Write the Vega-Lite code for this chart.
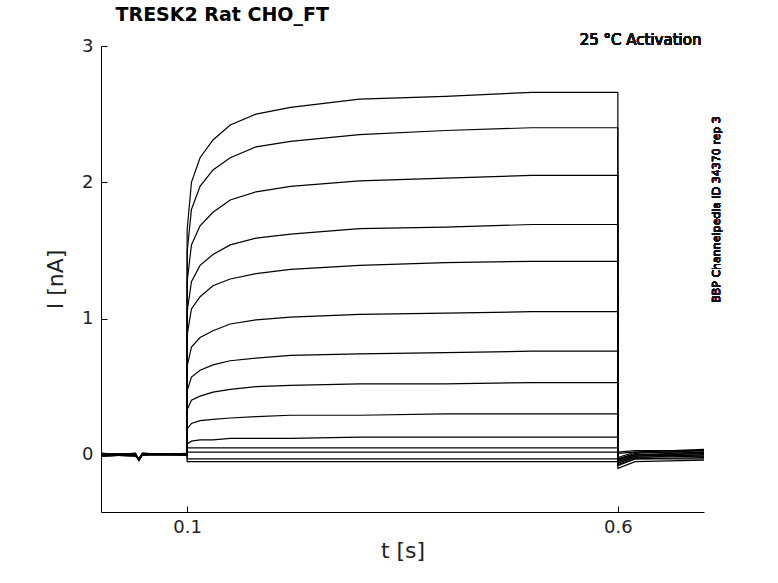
{
  "$schema": "https://vega.github.io/schema/vega-lite/v6.json",
  "width": 603,
  "height": 466,
  "autosize": {"type": "none"},
  "padding": {"left": 101, "top": 46, "right": 74, "bottom": 71},
  "config": {"view": {"stroke": null}, "font": "DejaVu Sans"},
  "title": {"text": "TRESK2  Rat  CHO_FT", "anchor": "start", "dx": 71, "fontSize": 19, "fontWeight": "bold", "offset": 8, "color": "black"},
  "data": {"values": [
    {"t": 0, "a": 0.0, "b": 0.01, "c": 0.0, "d": -0.01, "e": 0.0, "f": 0.01, "g": 0.0, "h": -0.01, "i": 0.0, "j": 0.01, "k": 0.0, "l": 0.0, "m": -0.01, "n": 0.0},
    {"t": 0.04, "a": 0.0, "b": 0.0, "c": 0.01, "d": 0.0, "e": -0.01, "f": 0.0, "g": 0.01, "h": 0.0, "i": 0.0, "j": 0.0, "k": 0.01, "l": -0.01, "m": 0.0, "n": 0.0},
    {"t": 0.044, "a": -0.04, "b": -0.03, "c": -0.04, "d": -0.03, "e": -0.04, "f": -0.03, "g": -0.04, "h": -0.03, "i": -0.04, "j": -0.03, "k": -0.04, "l": -0.03, "m": -0.04, "n": -0.03},
    {"t": 0.048, "a": 0.0, "b": 0.01, "c": 0.0, "d": 0.0, "e": 0.01, "f": 0.0, "g": 0.0, "h": 0.01, "i": 0.0, "j": 0.0, "k": 0.0, "l": 0.01, "m": 0.0, "n": 0.0},
    {"t": 0.0999, "a": 0.0, "b": 0.0, "c": 0.01, "d": 0.0, "e": 0.0, "f": 0.0, "g": 0.0, "h": 0.0, "i": 0.01, "j": 0.0, "k": 0.0, "l": 0.0, "m": 0.0, "n": 0.01},
    {"t": 0.1, "a": 1.65, "b": 1.49, "c": 1.27, "d": 1.05, "e": 0.88, "f": 0.65, "g": 0.47, "h": 0.33, "i": 0.19, "j": 0.08, "k": 0.05, "l": 0.02, "m": -0.03, "n": -0.05},
    {"t": 0.105, "a": 2.0, "b": 1.8, "c": 1.54, "d": 1.27, "e": 1.07, "f": 0.79, "g": 0.57, "h": 0.4, "i": 0.23, "j": 0.1, "k": 0.05, "l": 0.02, "m": -0.03, "n": -0.05},
    {"t": 0.115, "a": 2.18, "b": 1.97, "c": 1.68, "d": 1.39, "e": 1.16, "f": 0.86, "g": 0.62, "h": 0.43, "i": 0.25, "j": 0.11, "k": 0.05, "l": 0.02, "m": -0.03, "n": -0.05},
    {"t": 0.13, "a": 2.31, "b": 2.09, "c": 1.78, "d": 1.47, "e": 1.24, "f": 0.91, "g": 0.66, "h": 0.46, "i": 0.26, "j": 0.11, "k": 0.05, "l": 0.02, "m": -0.03, "n": -0.05},
    {"t": 0.15, "a": 2.42, "b": 2.18, "c": 1.87, "d": 1.54, "e": 1.29, "f": 0.96, "g": 0.69, "h": 0.48, "i": 0.27, "j": 0.12, "k": 0.05, "l": 0.02, "m": -0.03, "n": -0.05},
    {"t": 0.18, "a": 2.5, "b": 2.26, "c": 1.93, "d": 1.59, "e": 1.33, "f": 0.99, "g": 0.71, "h": 0.5, "i": 0.28, "j": 0.12, "k": 0.05, "l": 0.02, "m": -0.03, "n": -0.05},
    {"t": 0.22, "a": 2.55, "b": 2.3, "c": 1.97, "d": 1.62, "e": 1.36, "f": 1.01, "g": 0.73, "h": 0.51, "i": 0.29, "j": 0.12, "k": 0.05, "l": 0.02, "m": -0.03, "n": -0.05},
    {"t": 0.3, "a": 2.61, "b": 2.35, "c": 2.01, "d": 1.66, "e": 1.39, "f": 1.03, "g": 0.74, "h": 0.52, "i": 0.29, "j": 0.13, "k": 0.05, "l": 0.02, "m": -0.03, "n": -0.05},
    {"t": 0.4, "a": 2.63, "b": 2.38, "c": 2.03, "d": 1.67, "e": 1.41, "f": 1.04, "g": 0.75, "h": 0.52, "i": 0.3, "j": 0.13, "k": 0.05, "l": 0.02, "m": -0.03, "n": -0.05},
    {"t": 0.5, "a": 2.66, "b": 2.4, "c": 2.05, "d": 1.69, "e": 1.42, "f": 1.05, "g": 0.76, "h": 0.53, "i": 0.3, "j": 0.13, "k": 0.05, "l": 0.02, "m": -0.03, "n": -0.05},
    {"t": 0.6, "a": 2.66, "b": 2.4, "c": 2.05, "d": 1.69, "e": 1.42, "f": 1.05, "g": 0.76, "h": 0.53, "i": 0.3, "j": 0.13, "k": 0.05, "l": 0.02, "m": -0.03, "n": -0.05},
    {"t": 0.6001, "a": -0.08, "b": -0.06, "c": -0.1, "d": -0.05, "e": -0.07, "f": -0.04, "g": -0.06, "h": -0.03, "i": -0.05, "j": -0.02, "k": -0.04, "l": 0.02, "m": -0.03, "n": 0.01},
    {"t": 0.62, "a": -0.03, "b": -0.02, "c": -0.05, "d": -0.01, "e": -0.03, "f": 0.0, "g": -0.02, "h": 0.01, "i": -0.01, "j": 0.02, "k": 0.0, "l": 0.03, "m": 0.0, "n": 0.02},
    {"t": 0.7, "a": -0.02, "b": 0.0, "c": -0.04, "d": 0.01, "e": -0.03, "f": 0.02, "g": -0.01, "h": 0.03, "i": 0.0, "j": 0.04, "k": 0.01, "l": 0.03, "m": -0.01, "n": 0.02}
  ]},
  "layer": [
    {
      "transform": [{"fold": ["a", "b", "c", "d", "e", "f", "g", "h", "i", "j", "k", "l", "m", "n"], "as": ["trace", "I"]}],
      "mark": {"type": "line", "color": "black", "strokeWidth": 1.2, "clip": true},
      "encoding": {
        "x": {"field": "t", "type": "quantitative", "scale": {"domain": [0, 0.7], "nice": false},
          "axis": {"values": [0.1, 0.6], "format": "~g", "title": "t [s]", "titleFontSize": 22, "titleFontWeight": "normal", "labelFontSize": 18, "tickSize": -6, "labelPadding": 12, "domainColor": "black", "tickColor": "black", "titleColor": "#222", "labelColor": "#222", "grid": false}},
        "y": {"field": "I", "type": "quantitative", "scale": {"domain": [-0.42, 3], "nice": false},
          "axis": {"values": [0, 1, 2, 3], "format": "~g", "title": "I [nA]", "titleFontSize": 22, "titleFontWeight": "normal", "labelFontSize": 18, "tickSize": -6, "labelPadding": 14, "titlePadding": 14, "domainColor": "black", "tickColor": "black", "titleColor": "#222", "labelColor": "#222", "grid": false}},
        "detail": {"field": "trace"}
      }
    },
    {
      "mark": {"type": "text", "text": "25 °C  Activation", "font": "DejaVu Sans", "fontSize": 15, "fontWeight": 400, "fill": "#111", "stroke": null, "align": "right", "baseline": "middle", "dy": -6},
      "encoding": {"x": {"datum": 0.697}, "y": {"datum": 3}}
    },
    {
      "mark": {"type": "text", "text": "BBP Channelpedia ID 34370 rep 3", "font": "DejaVu Sans", "fontSize": 11, "fontWeight": 400, "fill": "#111", "stroke": null, "angle": 270, "align": "center", "baseline": "middle"},
      "encoding": {"x": {"datum": 0.715}, "y": {"datum": 1.8}}
    }
  ]
}
